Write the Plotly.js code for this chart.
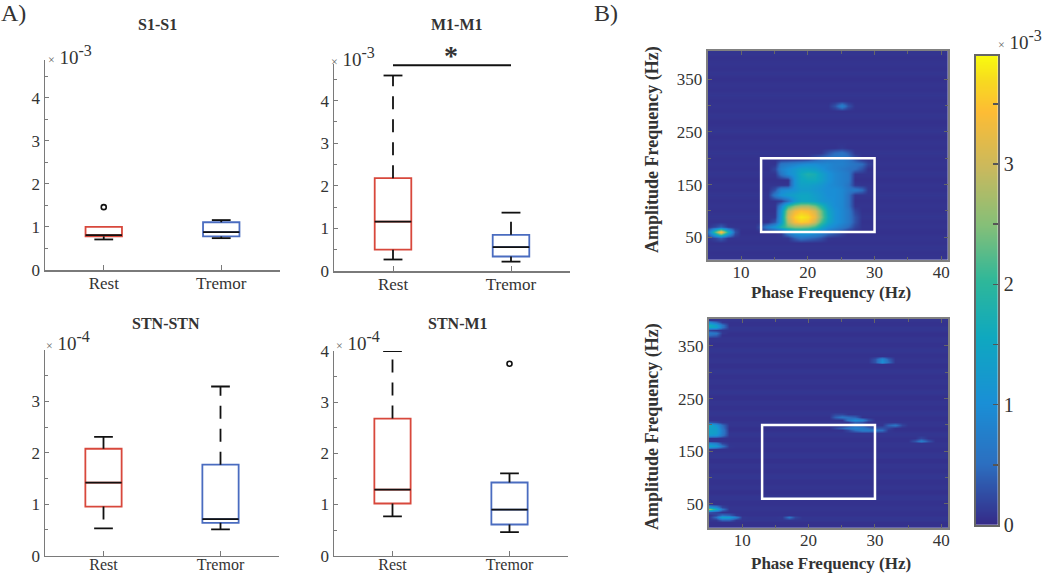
<!DOCTYPE html>
<html><head><meta charset="utf-8">
<script src="https://cdn.plot.ly/plotly-3.0.1.min.js"></script>
<style>html,body{margin:0;padding:0;background:#fff}#c{width:1050px;height:575px}</style>
</head><body><div id="c"></div>
<script>
// ---------- box-plot values (Rest, Tremor) ----------
const groups = ['Rest','Tremor'];
const s1Low=[.71,.74], s1Q1=[.78,.78], s1Med=[.81,.88], s1Q3=[1.0,1.11], s1High=[1.0,1.16], s1Out=[1.46,null];
const m1Low=[.27,.22], m1Q1=[.50,.34], m1Med=[1.16,.56], m1Q3=[2.18,.85], m1High=[4.59,1.37], m1Out=[null,null];
const stLow=[.53,.51], stQ1=[.955,.64], stMed=[1.42,.71], stQ3=[2.08,1.77], stHigh=[2.31,3.29], stOut=[null,null];
const smLow=[.77,.46], smQ1=[1.02,.61], smMed=[1.29,.90], smQ3=[2.68,1.43], smHigh=[4.0,1.61], smOut=[null,3.75];
const boxColors=['#d8483c','#4a6cc0'];
// ---------- heatmap axes ----------
const phaseFreq=[5,6,7,8,9,10,11,12,13,14,15,16,17,18,19,20,21,22,23,24,25,26,27,28,29,30,31,32,33,34,35,36,37,38,39,40,41];
const ampTop=[0,10,20,30,40,50,60,70,80,90,100,110,120,130,140,150,160,170,180,190,200,210,220,230,240,250,260,270,280,290,300,310,320,330,340,350,360,370,380,390,400,410];
const ampBottom=[0,5,10,15,20,25,30,35,40,45,50,55,60,65,70,75,80,85,90,95,100,105,110,115,120,125,130,135,140,145,150,155,160,165,170,175,180,185,190,195,200,205,210,215,220,225,230,235,240,245,250,255,260,265,270,275,280,285,290,295,300,305,310,315,320,325,330,335,340,345,350,355,360,365,370,375,380,385,390,395,400,405];
const stripesTop=[.06,.08,.06,.09,.06,.08,.05,.08,.06,.09,.06,.08,.06,.09,.06,.08,.05,.09,.06,.08,.06,.09,.06,.08,.05,.09,.07,.05,.09,.06,.08,.06,.09,.06,.08,.05,.09,.06,.08,.06,.09,.06];
const stripesBottom=[.08,.08,.05,.05,.09,.09,.06,.06,.08,.08,.06,.06,.09,.09,.05,.05,.08,.08,.06,.06,.09,.09,.06,.06,.08,.08,.05,.05,.09,.09,.06,.06,.08,.08,.06,.06,.09,.09,.05,.05,.08,.08,.06,.06,.09,.09,.06,.06,.08,.08,.05,.05,.09,.09,.06,.06,.08,.08,.06,.06,.09,.09,.05,.05,.08,.08,.06,.06,.09,.09,.06,.06,.08,.08,.05,.05,.09,.09,.06,.06,.08,.08];
// rows keyed by amplitude frequency; each lists values from phase 5 Hz upward
const pacTop={
 50:[0,.2,.4,.1,0,0,0,0,0,0,0,0,.1,.4,.6,.5,.4,.3,.1],
 60:[.5,2.2,3.7,1.8,.3,0,0,0,0,0,0,.1,.8,1.2,1.3,1.3,1.1,.9,.6,.4,.2],
 70:[0,.2,.4,.1,0,0,0,0,.3,.8,1.2,1.8,2.3,2.5,2.5,2.4,2.1,1.6,1.1,.9,.7,.5,.2],
 80:[0,0,0,0,0,0,0,0,0,0,.3,1.2,2.8,3.4,3.6,3.5,3.0,2.2,1.5,1.1,.9,.7,.3],
 90:[0,0,0,0,0,0,0,0,0,0,0,1.2,3.0,3.6,3.8,3.7,3.3,2.5,1.6,1.1,.9,.7,.3],
 100:[0,0,0,0,0,0,0,0,0,0,0,1.1,2.8,3.3,3.5,3.4,3.1,2.4,1.5,1.1,.9,.7,.2],
 110:[0,0,0,0,0,0,0,0,0,0,0,.8,2.0,2.5,2.7,2.7,2.4,1.9,1.3,1,.9,.6],
 120:[0,0,0,0,0,0,0,0,0,0,0,.1,.5,1.2,1.5,1.5,1.4,1.2,1.1,1,.9,.6],
 130:[0,0,0,0,0,0,0,0,0,0,.7,1.1,1.3,1.4,1.5,1.5,1.3,1.2,1,1,.9,.6],
 140:[0,0,0,0,0,0,0,0,0,0,.3,.9,1.0,1.1,1.3,1.3,1.2,1.1,1,1,.9,.7,.7,.5,.1],
 150:[0,0,0,0,0,0,0,0,0,0,0,0,0,1.1,1.4,1.4,1.3,1.2,1,.9,.8,.6,.1],
 160:[0,0,0,0,0,0,0,0,0,0,0,0,0,1.1,1.5,1.6,1.6,1.4,1.1,.9,.8,.7],
 170:[0,0,0,0,0,0,0,0,0,0,0,.6,1.0,1.2,1.6,1.8,1.7,1.4,1.1,.9,.8,.7],
 180:[0,0,0,0,0,0,0,0,0,0,.2,.8,1.0,1.2,1.4,1.4,1.3,1.1,.9,.8,.7,.6,.5,.3],
 190:[0,0,0,0,0,0,0,0,0,0,0,.6,.7,.8,.9,1,1,.9,.9,.8,.8,.7,.6,.5,.2],
 200:[0,0,0,0,0,0,0,0,0,0,0,0,0,0,0,.1,.3,.5,.6,.7,.7,.6,.3],
 210:[0,0,0,0,0,0,0,0,0,0,0,0,0,0,0,0,0,0,.3,.5,.6,.4,.1],
 220:[0,0,0,0,0,0,0,0,0,0,0,0,0,0,0,0,0,0,0,0,.1],
 300:[0,0,0,0,0,0,0,0,0,0,0,0,0,0,0,0,0,0,0,.3,.8,.3]
};
const pacBottom={
 20:[0,.1,.4,.4],
 25:[0,.5,1.4,1.3,.7,.1,0,0,0,0,0,.1,.6,.2],
 30:[0,.2,.5,.4,.1],
 35:[.3,.2],
 40:[2.6,1.6,.6],
 45:[1.2,.8,.2],
 155:[.1],
 160:[1.5,1.2,.6,.1],
 165:[.9,.7,.2],
 170:[0,0,0,0,0,0,0,0,0,0,0,0,0,0,0,0,0,0,0,0,0,0,0,0,0,0,0,0,0,0,0,.3,.7,.3],
 175:[0,0,0,0,0,0,0,0,0,0,0,0,0,0,0,0,0,0,0,0,0,0,0,0,0,0,0,0,0,0,0,0,.2],
 180:[1.2,1.1,.6],
 185:[1.4,1.3,.7],
 190:[1.4,1.3,.7,0,0,0,0,0,0,0,0,0,0,0,0,0,0,0,0,0,0,.2,.5,.7,.7,.6,.5,.1],
 195:[1.4,1.3,.6,0,0,0,0,0,0,0,0,0,0,0,0,0,0,0,0,.2,.4,.6,.8,.7,.5,.3,.3,.2],
 200:[1.6,1.1,.5,0,0,0,0,0,0,0,0,0,0,0,0,0,0,0,0,0,0,.2,.4,.3,.1,0,0,.4,.6,.2],
 205:[.3,.2,0,0,0,0,0,0,0,0,0,0,0,0,0,0,0,0,0,0,0,0,.4,.3],
 210:[0,0,0,0,0,0,0,0,0,0,0,0,0,0,0,0,0,0,0,0,0,.6,1.0,.8,.3],
 215:[0,0,0,0,0,0,0,0,0,0,0,0,0,0,0,0,0,0,0,.4,.6,.5,.4],
 220:[0,0,0,0,0,0,0,0,0,0,0,0,0,0,0,0,0,0,0,.2,.2],
 320:[0,0,0,0,0,0,0,0,0,0,0,0,0,0,0,0,0,0,0,0,0,0,0,0,0,.3,1.0,.5],
 325:[0,0,0,0,0,0,0,0,0,0,0,0,0,0,0,0,0,0,0,0,0,0,0,0,0,.3,.9,.4],
 370:[.5,.4],
 375:[.7,.6,.1],
 380:[.2,.1],
 385:[1.6,1.4,.6],
 390:[1.7,1.3,.6],
 395:[.9,.5,.1]
};
const bandPhase=[13,30], bandAmp=[60,200];
const barLevels=[0,.13,.26,.39,.52,.65,.78,.91,1.04,1.17,1.3,1.43,1.56,1.69,1.82,1.95,2.08,2.21,2.34,2.47,2.6,2.73,2.86,2.99,3.12,3.25,3.38,3.51,3.64,3.77,3.9];
// MATLAB parula
const parula=[[0,'#352a87'],[.13,'#2c6fc0'],[.26,'#1a8fd6'],[.4,'#0fa8c0'],[.52,'#2eb79a'],[.64,'#86bf78'],[.76,'#c9b95e'],[.88,'#fdbc35'],[.95,'#f7dc1f'],[1,'#f9fb0e']];

function grid(amp,rows,stripes){
  return amp.map((a,i)=>phaseFreq.map((p,j)=>{
    const r=rows[a]; const v=r&&r[j]!==undefined?r[j]:0;
    return Math.max(v,stripes[i]);
  }));
}
const W=1050,H=575, ink='#333', axisCol='#7a7a7a';
const serif='"Liberation Serif","Times New Roman",serif';
const xd=(a,b)=>[a/W,b/W], yd=(t,b)=>[1-b/H,1-t/H];

const panels=[
 {low:s1Low,q1:s1Q1,med:s1Med,q3:s1Q3,high:s1High,out:s1Out,box:[45,280,60,270],top:4.88,ticks:[0,1,2,3,4],minor:[.5,1.5,2.5,3.5,4.5],lab:[17,-3]},
 {low:m1Low,q1:m1Q1,med:m1Med,q3:m1Q3,high:m1High,out:m1Out,box:[334,570,64,271],top:4.86,ticks:[0,1,2,3,4],minor:[.5,1.5,2.5,3.5,4.5],lab:[17,-3]},
 {low:stLow,q1:stQ1,med:stMed,q3:stQ3,high:stHigh,out:stOut,box:[45,279,350,555.7],top:4,ticks:[0,1,2,3],minor:[.5,1.5,2.5,3.5],lab:[16,-6]},
 {low:smLow,q1:smQ1,med:smMed,q3:smQ3,high:smHigh,out:smOut,box:[334,568,351,555.7],top:4,ticks:[0,1,2,3,4],minor:[.5,1.5,2.5,3.5],lab:[16,-6]}
];
const data=[], layout={
  width:W,height:H,margin:{l:0,r:0,t:0,b:0},showlegend:false,paper_bgcolor:'#fff',plot_bgcolor:'#fff',
  font:{family:serif,color:ink,size:16},annotations:[],shapes:[],
  coloraxis:{cmin:0,cmax:3.9,colorscale:parula,showscale:false}
};
panels.forEach((p,i)=>{
  const n=i+1, xa='x'+n, ya='y'+n;
  layout['xaxis'+n]={domain:xd(p.box[0],p.box[1]),anchor:ya,range:[.5,2.5],tickmode:'array',tickvals:[1,2],ticktext:groups,ticks:'inside',ticklen:5,tickcolor:axisCol,showline:true,linecolor:axisCol,linewidth:1.5,showgrid:false,zeroline:false,ticklabelstandoff:p.lab[1],tickfont:{family:serif,size:p.lab[0],color:ink}};
  layout['yaxis'+n]={domain:yd(p.box[2],p.box[3]),anchor:xa,range:[0,p.top],tickmode:'array',tickvals:p.ticks,ticks:'inside',ticklen:4,tickcolor:axisCol,showline:true,linecolor:axisCol,linewidth:1.5,showgrid:false,zeroline:false,tickfont:{family:serif,size:17,color:ink},minor:{tickmode:'array',tickvals:p.minor,ticks:'inside',ticklen:3,tickcolor:axisCol,showgrid:false}};
  [0,1].forEach(g=>{
    const x=g+1;
    data.push({type:'box',xaxis:xa,yaxis:ya,x:[x],q1:[p.q1[g]],median:[p.med[g]],q3:[p.q3[g]],lowerfence:[p.q1[g]],upperfence:[p.q3[g]],width:.31,whiskerwidth:0,boxpoints:false,line:{color:boxColors[g],width:1.8},fillcolor:'rgba(0,0,0,0)',hoverinfo:'skip'});
    const line=(xs,ys,dash,w)=>data.push({type:'scatter',mode:'lines',xaxis:xa,yaxis:ya,x:xs,y:ys,line:{color:'#111',width:w||1.8,dash:dash||'solid'},hoverinfo:'skip',cliponaxis:false});
    line([x-.155,x+.155],[p.med[g],p.med[g]],null,1.8);
    line([x,x],[p.q3[g],p.high[g]],'13px,10px');
    line([x,x],[p.q1[g],p.low[g]],'13px,10px');
    if(p.high[g]>p.q3[g]) line([x-.08,x+.08],[p.high[g],p.high[g]]);
    line([x-.08,x+.08],[p.low[g],p.low[g]]);
    if(p.out[g]!==null) data.push({type:'scatter',mode:'markers',xaxis:xa,yaxis:ya,x:[x],y:[p.out[g]],marker:{symbol:'circle-open',size:5,color:'#111',line:{width:1.6,color:'#111'}},hoverinfo:'skip'});
  });
});
// significance bar on M1-M1
data.push({type:'scatter',mode:'lines',xaxis:'x2',yaxis:'y2',x:[1,2],y:[4.83,4.83],line:{color:'#111',width:2},hoverinfo:'skip'});

// heatmaps
[[ampTop,pacTop,stripesTop,[707.7,948,50.7,260],[7,404]],[ampBottom,pacBottom,stripesBottom,[709,948,319,527.7],[5,401]]].forEach((h,i)=>{
  const n=i+5, xa='x'+n, ya='y'+n;
  data.push({type:'heatmap',xaxis:xa,yaxis:ya,x:phaseFreq,y:h[0],z:grid(h[0],h[1],h[2]),coloraxis:'coloraxis',zsmooth:'best',hoverinfo:'skip'});
  layout['xaxis'+n]={domain:xd(h[3][0],h[3][1]),anchor:ya,range:[5,41],tickmode:'array',tickvals:[10,20,30,40],ticks:'inside',ticklen:4,tickcolor:'#666',showline:true,mirror:'allticks',linecolor:'#808080',linewidth:2,showgrid:false,zeroline:false,ticklabelstandoff:-4,tickfont:{family:serif,size:17,color:ink},
    minor:{tickmode:'array',tickvals:[15,25,35],ticks:'inside',ticklen:3,tickcolor:'#666',showgrid:false}};
  layout['yaxis'+n]={domain:yd(h[3][2],h[3][3]),anchor:xa,range:h[4],tickmode:'array',tickvals:[50,150,250,350],ticks:'inside',ticklen:4,tickcolor:'#666',showline:true,mirror:'allticks',linecolor:'#808080',linewidth:2,showgrid:false,zeroline:false,tickfont:{family:serif,size:17,color:ink},
    minor:{tickmode:'array',tickvals:[100,200,300],ticks:'inside',ticklen:3,tickcolor:'#666',showgrid:false}};
  layout.shapes.push({type:'rect',xref:xa,yref:ya,x0:bandPhase[0],x1:bandPhase[1],y0:bandAmp[0],y1:bandAmp[1],line:{color:'#fff',width:2.5},layer:'above'});
});
// colour bar drawn on its own axes, so that half-unit ticks stay unlabelled
data.push({type:'heatmap',xaxis:'x7',yaxis:'y7',x:[0,1],y:barLevels,z:barLevels.map(v=>[v,v]),coloraxis:'coloraxis',zsmooth:'best',hoverinfo:'skip'});
layout.xaxis7={domain:xd(976,997.7),anchor:'y7',range:[0,1],showticklabels:false,ticks:'',showline:true,mirror:true,linecolor:'#666',linewidth:2,showgrid:false,zeroline:false};
layout.yaxis7={domain:yd(55.7,525),anchor:'x7',side:'right',range:[0,3.9],tickmode:'array',tickvals:[0,1,2,3],ticks:'inside',ticklen:5,tickcolor:'#555',tickwidth:1.5,showline:true,mirror:true,linecolor:'#666',linewidth:2,showgrid:false,zeroline:false,tickfont:{family:serif,size:20,color:ink},
  minor:{tickmode:'array',tickvals:[.5,1.5,2.5,3.5],ticks:'inside',ticklen:5,tickcolor:'#555',showgrid:false}};

const note=(px,py,text,size,anchor,bold,angle)=>layout.annotations.push({xref:'paper',yref:'paper',x:px/W,y:1-py/H,xanchor:anchor||'center',yanchor:'middle',textangle:angle||0,text:bold?'<b>'+text+'</b>':text,showarrow:false,font:{family:serif,size:size,color:ink}});
note(-1,13,'A)',24,'left'); note(592,13,'B)',24,'left');
note(157,25,'S1-S1',16,'center',true); note(457,25,'M1-M1',16,'center',true);
note(166,323,'STN-STN',16,'center',true); note(458,323,'STN-M1',16,'center',true);
note(451,55,'*',28,'center',true);
note(831,292,'Phase Frequency (Hz)',17,'center',true); note(831,563,'Phase Frequency (Hz)',17,'center',true);
note(652,150,'Amplitude Frequency (Hz)',18,'center',true,-90); note(652,427,'Amplitude Frequency (Hz)',18,'center',true,-90);
const sci=e=>"<span style='font-size:12px;color:#666'>×</span> 10<sup><span style='font-size:16px'>"+e+"</span></sup>";
note(46,55,sci('-3'),19,'left'); note(329,57,sci('-3'),19,'left');
note(44,341,sci('-4'),19,'left'); note(334,341,sci('-4'),19,'left');
note(996,40,sci('-3'),19,'left');

Plotly.newPlot('c',data,layout,{displayModeBar:false,staticPlot:true});
</script></body></html>
